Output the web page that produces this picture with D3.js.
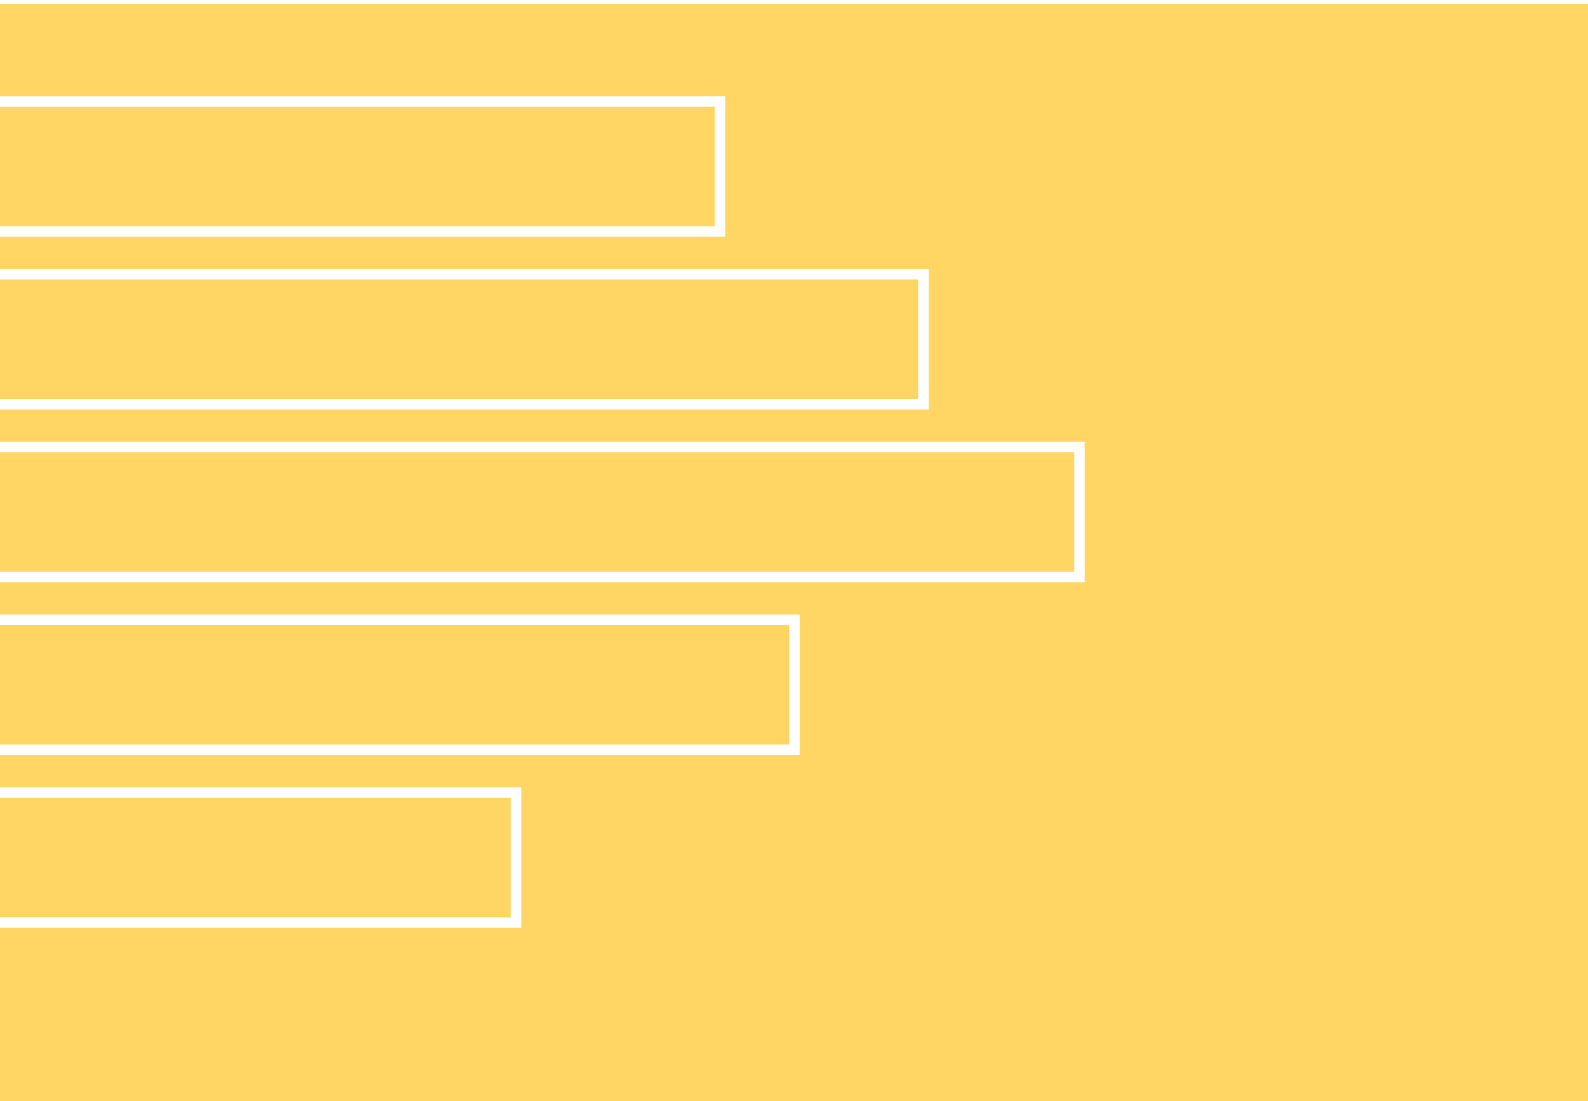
<!DOCTYPE html>
<html>
<head>
<meta charset="utf-8">
<script src="https://cdn.jsdelivr.net/npm/d3@7"></script>
<style>
    html, body { margin: 0; padding: 0; background: #ffffff; overflow: hidden; }
</style>
</head>
<body>
<div id="chart"></div>
<script>
// Chart data
var categories = ["A", "B", "C", "D", "E"];
var values = [72, 92.35, 107.95, 79.45, 51.6];

var w = 1588;
var h = 1101;
var bgColor = "#ffd563";

function drawChart() {
    var svg = d3.select("#chart")
                .append("svg")
                .attr("width", w)
                .attr("height", h);

    // yellow panel, a thin white strip is left at the top
    svg.append("rect")
       .attr("x", 0)
       .attr("y", 4)
       .attr("width", w)
       .attr("height", h - 4)
       .attr("fill", bgColor);

    var xScale = d3.scaleLinear()
                   .domain([0, 100])
                   .range([0, 1000]);

    var yScale = d3.scaleBand()
                   .domain(categories)
                   .range([101.5, 922.5])
                   .paddingInner(0.2475)
                   .paddingOuter(0);

    // bars: same fill as panel, white outline, left edge pushed offscreen
    svg.selectAll(".bar")
       .data(values)
       .enter()
       .append("rect")
       .attr("class", "bar")
       .attr("x", -20)
       .attr("y", function(d, i) { return yScale(categories[i]); })
       .attr("width", function(d) { return xScale(d) + 20; })
       .attr("height", yScale.bandwidth())
       .attr("fill", bgColor)
       .attr("stroke", "#ffffff")
       .attr("stroke-width", 10.5);
}

window.onload = drawChart;
</script>
</body>
</html>
